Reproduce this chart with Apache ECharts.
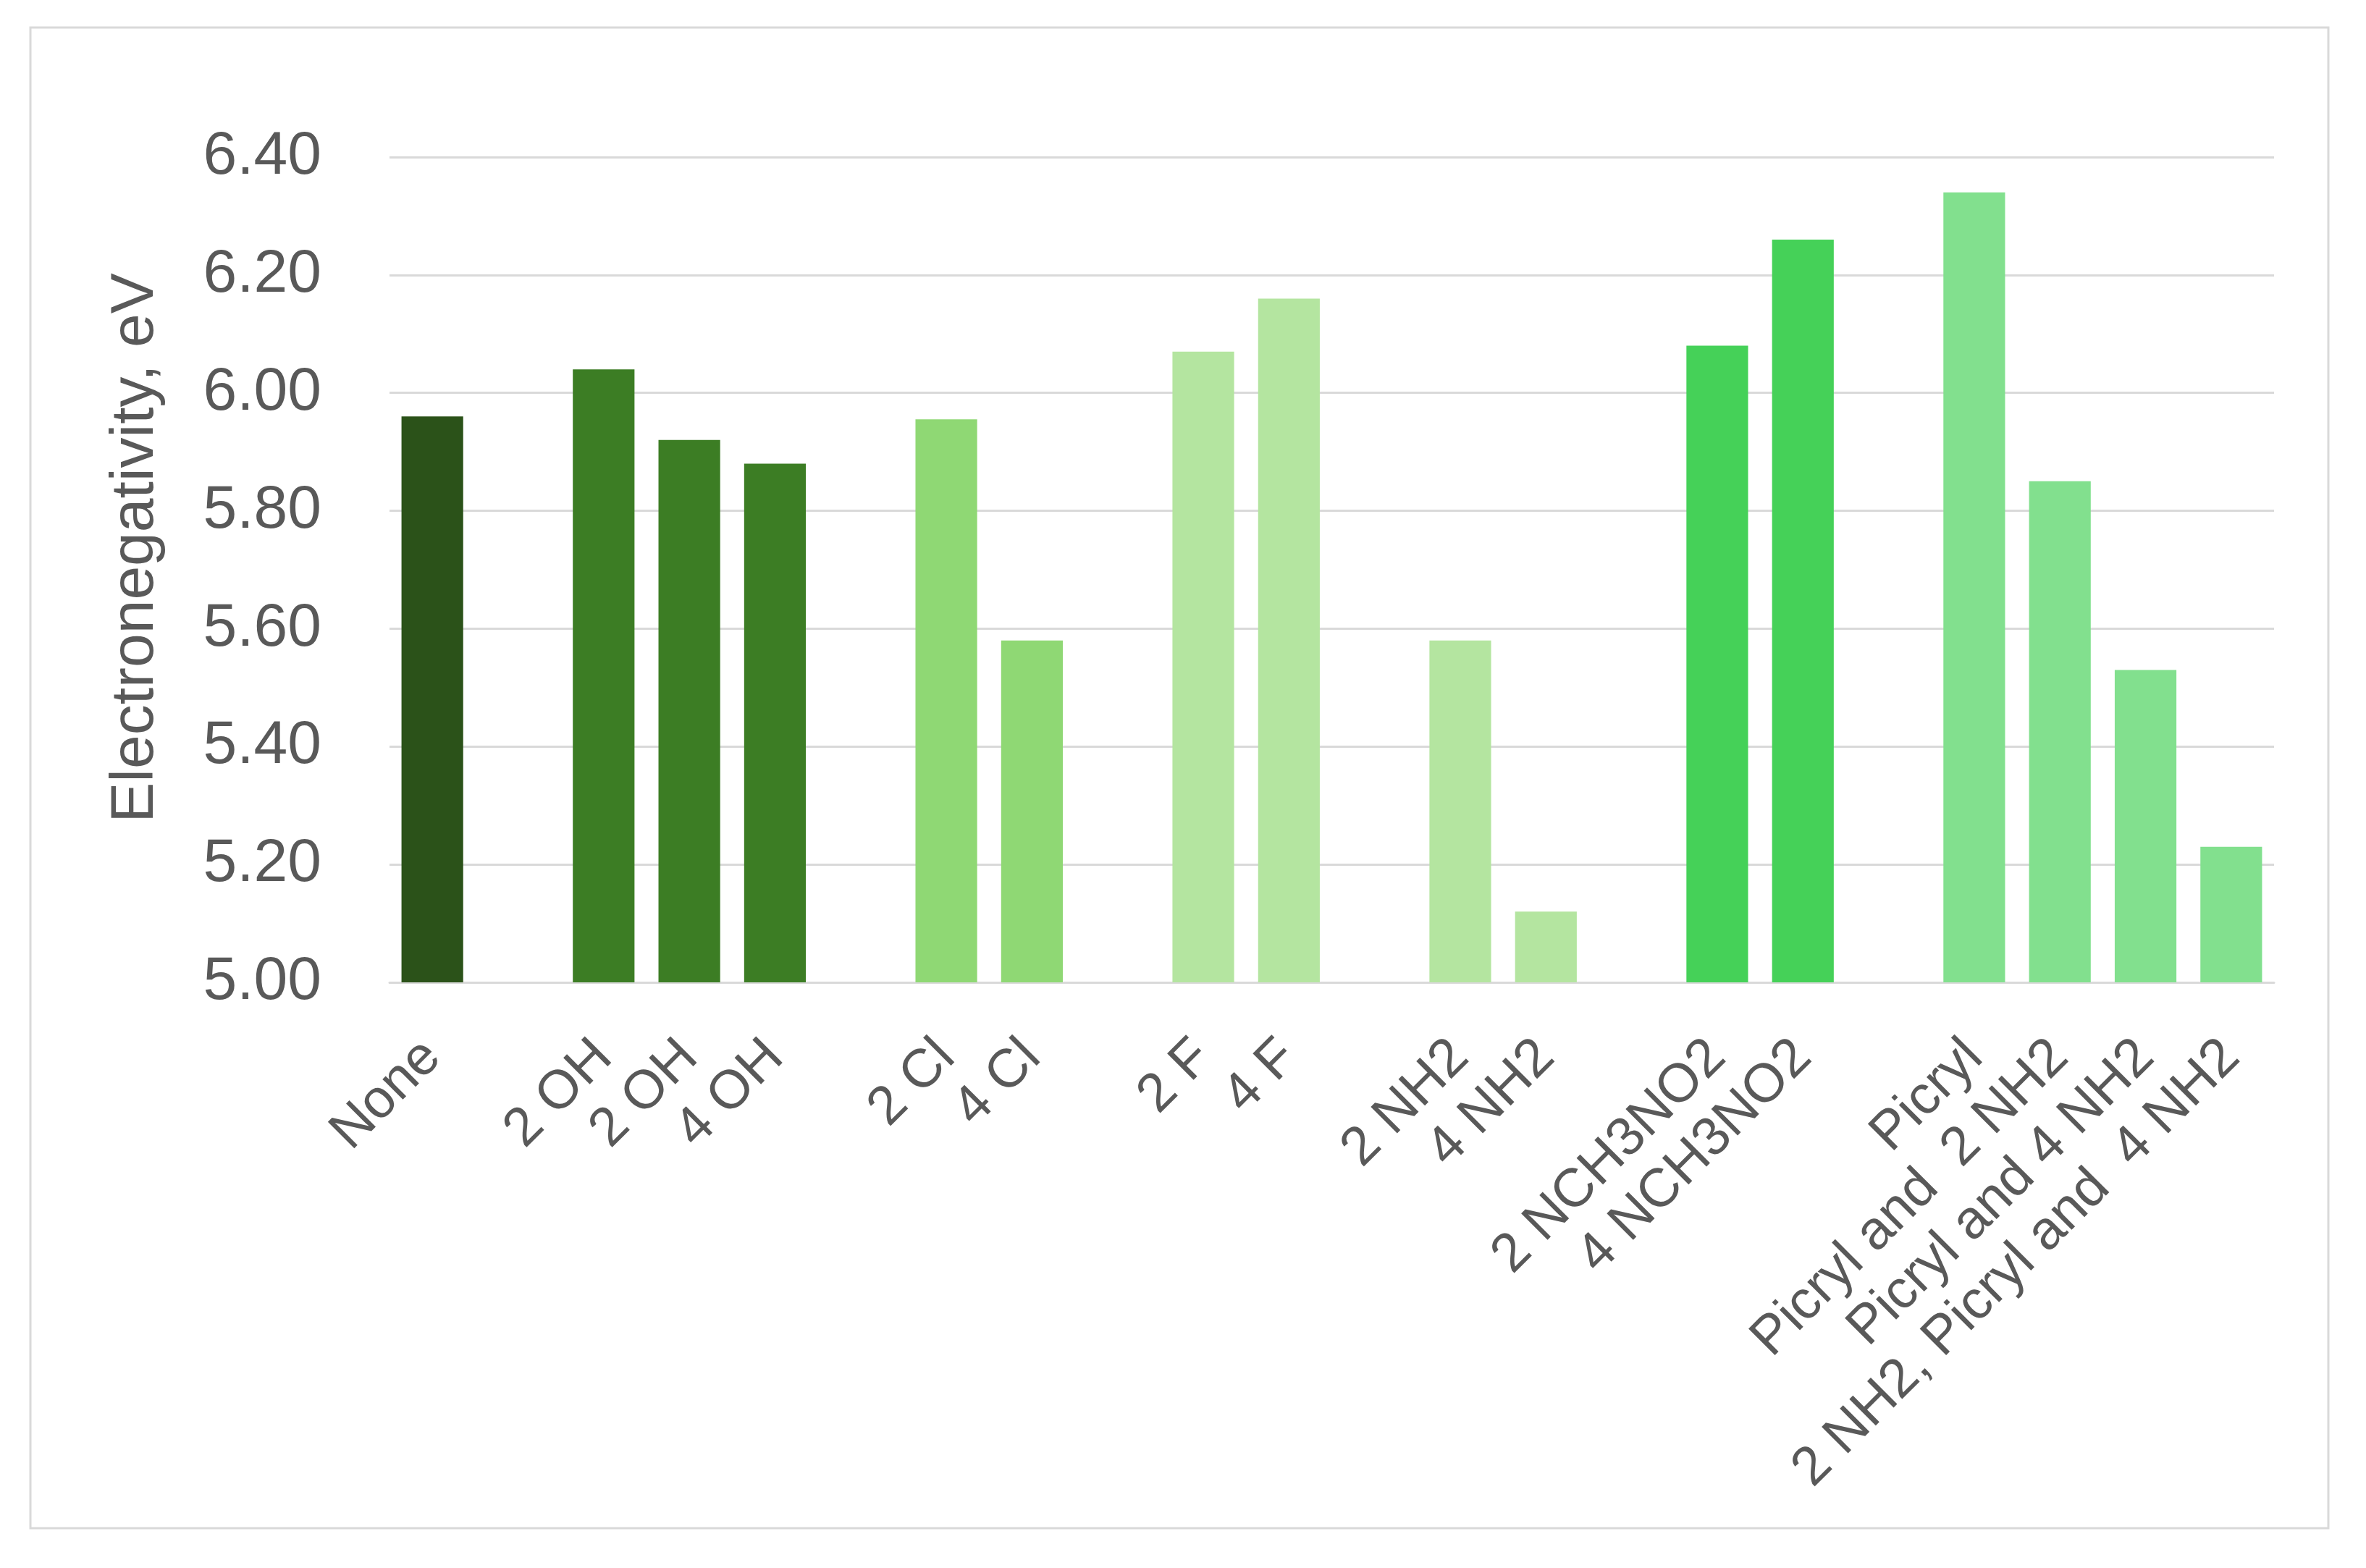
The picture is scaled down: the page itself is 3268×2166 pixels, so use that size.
<!DOCTYPE html>
<html>
<head>
<meta charset="utf-8">
<title>Electronegativity</title>
<script src="https://cdn.jsdelivr.net/npm/echarts@6/dist/echarts.min.js"></script>
<style>
    html, body { margin: 0; padding: 0; background: #fff; }
    #chartArea { width: 3268px; height: 2166px; }
</style>
</head>
<body>
<div id="chartArea"></div>
<script>
// categories, '' are the empty gaps between groups
var categories = ['None', '', '2 OH', '2 OH', '4 OH', '', '2 Cl', '4 Cl', '', '2 F', '4 F', '',
    '2 NH2', '4 NH2', '', '2 NCH3NO2', '4 NCH3NO2', '',
    'Picryl', 'Picryl and  2 NH2', 'Picryl and 4 NH2', '2 NH2, Picryl and  4 NH2'];

var values = [5.96, null, 6.04, 5.92, 5.88, null, 5.955, 5.58, null, 6.07, 6.16, null,
    5.58, 5.12, null, 6.08, 6.26, null, 6.34, 5.85, 5.53, 5.23];

var barColors = ['#2b5219', null, '#3c7d24', '#3c7d24', '#3c7d24', null, '#8fd874', '#8fd874', null,
    '#b4e5a0', '#b4e5a0', null, '#b4e5a0', '#b4e5a0', null, '#45d158', '#45d158', null,
    '#82e08e', '#82e08e', '#82e08e', '#82e08e'];

var yTicks = [5.0, 5.2, 5.4, 5.6, 5.8, 6.0, 6.2, 6.4];

var chartDom = document.getElementById('chartArea');
var myChart = echarts.init(chartDom);
var option;

var seriesData = [];
for (var i = 0; i < values.length; i++) {
    seriesData.push({
        value: values[i],
        itemStyle: { color: barColors[i] || '#ffffff' }
    });
}

option = {
    backgroundColor: '#ffffff',
    animation: false,
    textStyle: { fontFamily: 'Liberation Sans' },
    graphic: [{
        type: 'rect',
        shape: { x: 42, y: 38, width: 3174, height: 2073 },
        style: { fill: 'none', stroke: '#d9d9d9', lineWidth: 3 }
    }],
    grid: {
        left: 538,
        right: 127,
        top: 217,
        bottom: 809
    },
    xAxis: {
        type: 'category',
        data: categories,
        axisLine: { lineStyle: { color: '#d9d9d9', width: 3 } },
        axisTick: { show: false },
        axisLabel: {
            interval: 0,
            rotate: 45,
            margin: 92,
            fontSize: 75,
            color: '#595959'
        }
    },
    yAxis: {
        type: 'value',
        min: yTicks[0],
        max: yTicks[yTicks.length - 1],
        interval: 0.2,
        name: 'Electronegativity, eV',
        nameLocation: 'middle',
        nameRotate: 90,
        nameGap: 308,
        nameTextStyle: { fontSize: 84, color: '#595959', padding: [0, 0, 0, 60] },
        axisLine: { show: false },
        axisTick: { show: false },
        splitLine: { lineStyle: { color: '#d9d9d9', width: 3 } },
        axisLabel: {
            margin: 94,
            fontSize: 84,
            color: '#595959',
            formatter: function (v) { return v.toFixed(2); }
        }
    },
    series: [{
        type: 'bar',
        data: seriesData,
        barCategoryGap: '28%'
    }]
};

option && myChart.setOption(option);
</script>
</body>
</html>
